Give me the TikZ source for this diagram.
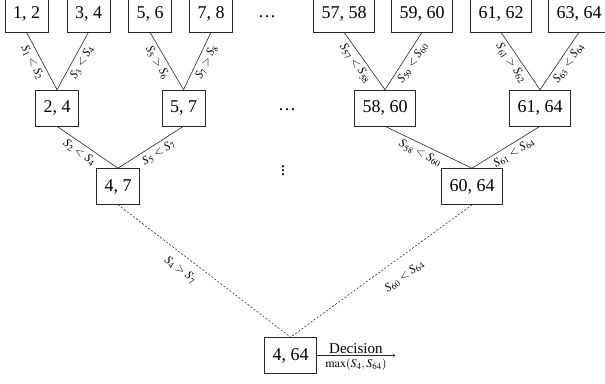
\documentclass[tikz,border=0pt]{standalone}
\usepackage{mathptmx}
\usepackage{fontspec}
\setmainfont{Liberation Serif}
\begin{document}
\begin{tikzpicture}[x=1pt,y=-1pt,
  box/.style={draw=black!85, line width=0.6pt, font=\fontsize{18}{20}\selectfont,
    minimum height=36pt, inner xsep=8pt, inner ysep=0pt},
  edge/.style={line width=0.6pt, draw=black!85},
  dedge/.style={line width=0.55pt, draw=black!85, dash pattern=on 2pt off 1.8pt},
  lab/.style={sloped, below=2pt, font=\fontsize{12}{14}\selectfont, inner sep=1.5pt, pos=0.45},
  dots/.style={font=\fontsize{18}{20}\selectfont, inner sep=0pt}
]
\useasboundingbox (0,0) rectangle (605,383);
% top row
\node[box] (t1) at (26.5,14) {1, 2};
\node[box] (t2) at (88.5,14) {3, 4};
\node[box] (t3) at (150,14) {5, 6};
\node[box] (t4) at (211,14) {7, 8};
\node[box] (t5) at (344,14) {57, 58};
\node[box] (t6) at (422,14) {59, 60};
\node[box] (t7) at (501,14) {61, 62};
\node[box] (t8) at (579,14) {63, 64};
\node[dots] (d1) at (267,17) {\dots};
% second row
\node[box] (m1) at (57,108) {2, 4};
\node[box] (m2) at (183.5,108) {5, 7};
\node[box] (m3) at (385,108) {58, 60};
\node[box] (m4) at (540,108) {61, 64};
\node[dots] (d2) at (287,110) {\dots};
% third row
\node[box] (l1) at (118,186.5) {4, 7};
\node[box] (l2) at (472,186.5) {60, 64};
\node[dots] (d3) at (283,168) {$\vdots$};
% root
\node[box] (r) at (290.5,355.5) {4, 64};
\coordinate (dec) at (395,355.5);

% edges level 1
\draw[edge] (t1.south) -- node[lab] {$S_1<S_2$} (m1.north);
\draw[edge] (t2.south) -- node[lab] {$S_3<S_4$} (m1.north);
\draw[edge] (t3.south) -- node[lab] {$S_5>S_6$} (m2.north);
\draw[edge] (t4.south) -- node[lab] {$S_7>S_8$} (m2.north);
\draw[edge] (t5.south) -- node[lab] {$S_{57}<S_{58}$} (m3.north);
\draw[edge] (t6.south) -- node[lab] {$S_{59}<S_{60}$} (m3.north);
\draw[edge] (t7.south) -- node[lab] {$S_{61}>S_{62}$} (m4.north);
\draw[edge] (t8.south) -- node[lab] {$S_{63}<S_{64}$} (m4.north);
% edges level 2
\draw[edge] (m1.south) -- node[lab] {$S_2<S_4$} (l1.north);
\draw[edge] (m2.south) -- node[lab] {$S_5<S_7$} (l1.north);
\draw[edge] (m3.south) -- node[lab] {$S_{58}<S_{60}$} (l2.north);
\draw[edge] (m4.south) -- node[lab] {$S_{61}<S_{64}$} (l2.north);
% dashed edges
\draw[dedge] (l1.south) -- node[lab, pos=0.41, below=5pt] {$S_4>S_7$} (r.north);
\draw[dedge] (l2.south) -- node[lab, pos=0.43, below=9pt] {$S_{60}<S_{64}$} (r.north);
% decision
\draw[edge, ->] (r.east) -- node[midway, above, font=\fontsize{15}{17}\selectfont, inner sep=2pt] {Decision}
  node[midway, below, font=\fontsize{12}{14}\selectfont, inner sep=3pt] {$\max(S_4,S_{64})$} (dec);
\end{tikzpicture}
\end{document}
